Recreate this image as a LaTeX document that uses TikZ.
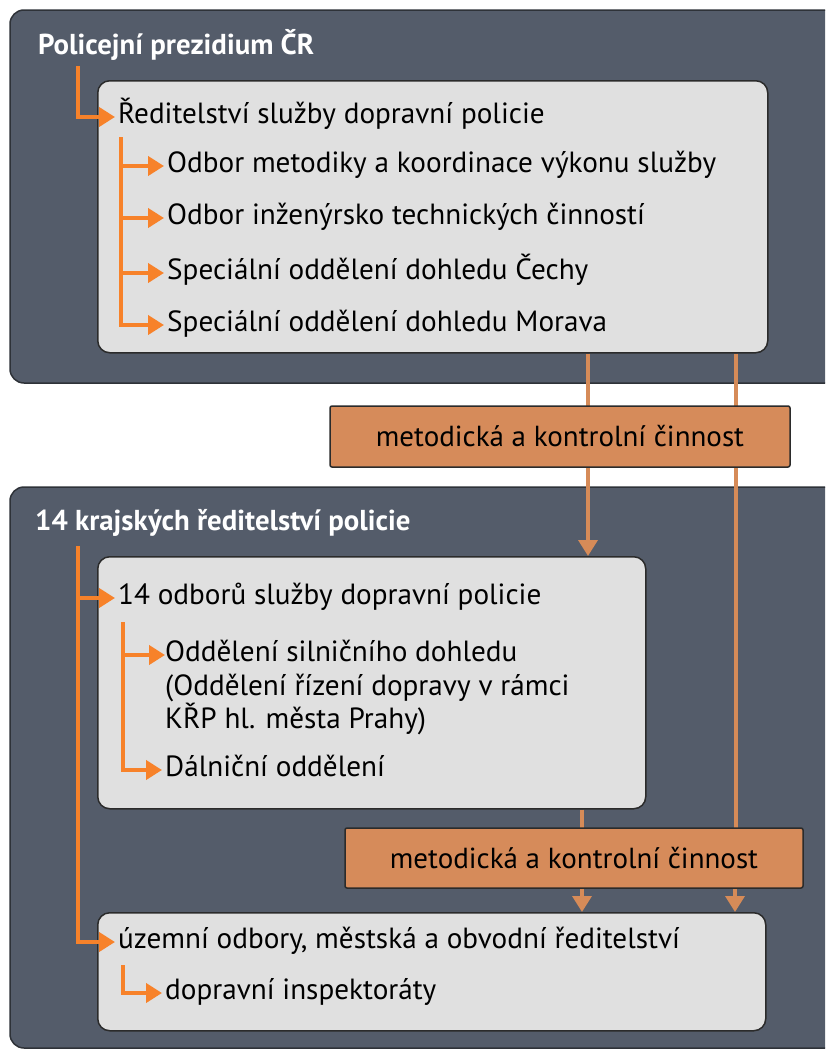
\documentclass[tikz,border=0pt]{standalone}
\usepackage{fontspec}
\setmainfont{PT Sans}
\usetikzlibrary{arrows.meta}
\definecolor{panelfill}{HTML}{545C6A}
\definecolor{panelline}{HTML}{2E3238}
\definecolor{boxfill}{HTML}{E0E0E0}
\definecolor{boxline}{HTML}{2B2B2B}
\definecolor{bright}{HTML}{F7822A}
\definecolor{muted}{HTML}{D68B58}
\definecolor{midfill}{HTML}{D68B5A}
\tikzset{
  panelbox/.style={draw=panelline, line width=1.5pt, fill=panelfill, rounded corners=14pt},
  graybox/.style={draw=boxline, line width=1.5pt, fill=boxfill, rounded corners=12pt, anchor=north west, inner sep=0pt},
  midbox/.style={draw=boxline, line width=1.5pt, fill=midfill, rounded corners=2pt, inner sep=0pt, font=\fontsize{29}{33}\selectfont},
  txt/.style={anchor=west, inner xsep=3pt, inner ysep=0pt, text height=19pt, text depth=6pt, font=\fontsize{29.2}{33}\selectfont, text=black},
  ttl/.style={anchor=west, inner sep=0pt, text height=19pt, text depth=6pt, font=\fontsize{28.8}{32}\selectfont\bfseries, text=white},
  bline/.style={draw=bright, line width=4pt},
  tree/.style={draw=bright, line width=4pt, -{Triangle[length=16pt,width=19pt]}},
  link/.style={draw=muted, line width=3.5pt},
  linkarr/.style={draw=muted, line width=3.5pt, -{Triangle[length=16pt,width=19pt]}},
}
\begin{document}
\begin{tikzpicture}[x=1pt,y=-1pt]
\useasboundingbox (0,0) rectangle (825,1052);
\clip (0,0) rectangle (825,1052);
\fill[white] (0,0) rectangle (825,1052);

% panels
\draw[panelbox] (10,10) rectangle (870,383);
\draw[panelbox] (10,487) rectangle (870,1048);

% gray boxes
\node[graybox, minimum width=670pt, minimum height=272pt] (b1) at (97,80) {};
\node[graybox, minimum width=548pt, minimum height=252pt] (b2) at (97,556) {};
\node[graybox, minimum width=668pt, minimum height=118pt] (b3) at (97,912) {};

% vertical link positions
\coordinate (xa) at (588,0);
\coordinate (xb) at (736,0);
\coordinate (xc) at (582,0);
\coordinate (xd) at (735,0);
\coordinate (m1y) at (0,406);
\coordinate (m1b) at (0,467);
\coordinate (m2y) at (0,828);

% muted links (drawn before the middle boxes so they pass behind)
\draw[link] (b1.south -| xa) -- (xa |- m1y);
\draw[link] (b1.south -| xb) -- (xb |- m2y);
\draw[linkarr] (xa |- m1b) -- (b2.north -| xa);
\draw[link] (b2.south -| xc) -- (xc |- m2y);

% middle boxes
\node[midbox, minimum width=460pt, minimum height=61pt] (m1) at (560,436.5) {metodická a kontrolní činnost};
\node[midbox, minimum width=458pt, minimum height=60pt] (m2) at (574,858) {metodická a kontrolní činnost};

\draw[linkarr] (m2.south -| xc) -- (b3.north -| xc);
\draw[linkarr] (m2.south -| xd) -- (b3.north -| xd);

% panel 1 texts
\node[ttl] (t1) at (38,48) {Policejní prezidium ČR};
\node[txt] (r1) at (115,117) {Ředitelství služby dopravní policie};
\node[txt] (o1) at (164,166) {Odbor metodiky a koordinace výkonu služby};
\node[txt] (o2) at (164,218) {Odbor inženýrsko technických činností};
\node[txt] (o3) at (164,273) {Speciální oddělení dohledu Čechy};
\node[txt] (o4) at (164,325) {Speciální oddělení dohledu Morava};

\coordinate (t1a) at (78,66);
\draw[bline] (t1a) -- ([yshift=2pt]t1a |- r1.west);
\draw[tree] ([xshift=-2pt]t1a |- r1.west) -- (r1.west);
\coordinate (r1a) at (121,137);
\draw[bline] (r1a) -- ([yshift=2pt]r1a |- o4.west);
\draw[tree] (r1a |- o1.west) -- (o1.west);
\draw[tree] (r1a |- o2.west) -- (o2.west);
\draw[tree] (r1a |- o3.west) -- (o3.west);
\draw[tree] ([xshift=-2pt]r1a |- o4.west) -- (o4.west);

% panel 2 texts
\node[ttl] (t2) at (35,524) {14 krajských ředitelství policie};
\node[txt] (r2) at (115,598) {14 odborů služby dopravní policie};
\node[txt, anchor=north west, align=left, font=\fontsize{29.2}{33.5}\selectfont, text height=, text depth=] (s1) at (162,640) {Oddělení silničního dohledu\\(Oddělení řízení dopravy v rámci\\KŘP hl. města Prahy)};
\coordinate (s1in) at (165,655);
\node[txt] (s2) at (162,770) {Dálniční oddělení};
\node[txt] (r3) at (115,942) {územní odbory, městská a obvodní ředitelství};
\node[txt] (s3) at (162,993) {dopravní inspektoráty};

\coordinate (t2a) at (78,546);
\draw[bline] (t2a) -- ([yshift=2pt]t2a |- r3.west);
\draw[tree] (t2a |- r2.west) -- (r2.west);
\draw[tree] ([xshift=-2pt]t2a |- r3.west) -- (r3.west);
\coordinate (r2a) at (123,622);
\draw[bline] (r2a) -- ([yshift=2pt]r2a |- s2.west);
\draw[tree] (r2a |- s1in) -- (s1in);
\draw[tree] ([xshift=-2pt]r2a |- s2.west) -- (s2.west);
\coordinate (r3a) at (123,965);
\draw[bline] (r3a) -- ([yshift=2pt]r3a |- s3.west);
\draw[tree] ([xshift=-2pt]r3a |- s3.west) -- (s3.west);
\end{tikzpicture}
\end{document}
